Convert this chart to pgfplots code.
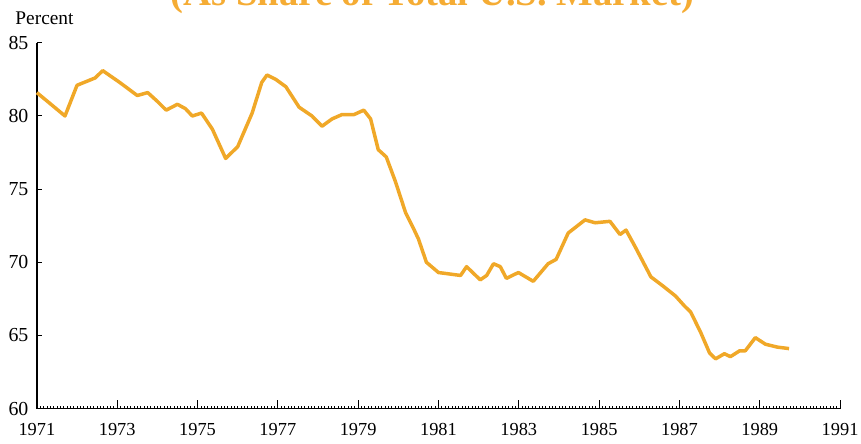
\documentclass[border=0pt]{standalone}
\usepackage{fontspec}
\setmainfont{Liberation Serif}
\usepackage{pgfplots}
\pgfplotsset{compat=1.18}
\definecolor{lineor}{RGB}{240,168,40}
\definecolor{titleor}{RGB}{245,172,52}

\begin{document}
\begin{tikzpicture}
\begin{axis}[
  name=ax,
  scale only axis,
  width=806bp, height=367bp,
  xmin=1971, xmax=1991,
  ymin=60, ymax=85,
  axis x line*=bottom, axis y line*=left,
  axis line style={-, line width=1.3bp},
  tick align=inside,
  xtick={1971,1973,...,1991},
  ytick=\empty,
  extra y ticks={60,65,...,85},
  extra y tick style={major tick length=5bp},
  minor x tick num=23,
  major tick length=9bp,
  minor tick length=3bp,
  tick style={black, line width=1bp},
  minor tick style={line width=0.7bp},
  font=\fontsize{20}{22}\selectfont,
  /pgf/number format/assume math mode=true,
  xticklabel style={/pgf/number format/1000 sep=, yshift=-11bp, font=\fontsize{18.5}{22}\selectfont},
  yticklabel style={xshift=-5bp},
  clip=false,
]
\addplot[color=lineor, line width=3.5bp, line join=round] coordinates {
(1971.0,81.6)(1971.35,80.8)(1971.7,80.0)(1972.0,82.1)(1972.27,82.4)
(1972.45,82.6)(1972.64,83.1)(1973.06,82.3)(1973.5,81.4)(1973.76,81.6)
(1974.0,81.0)(1974.22,80.4)(1974.5,80.8)(1974.7,80.5)(1974.87,80.0)
(1975.1,80.2)(1975.37,79.1)(1975.7,77.1)(1976.0,77.9)(1976.36,80.2)
(1976.6,82.3)(1976.73,82.8)(1976.95,82.5)(1977.2,82.0)(1977.53,80.6)
(1977.85,80.0)(1978.1,79.3)(1978.35,79.8)(1978.6,80.1)(1978.9,80.1)
(1979.14,80.4)(1979.31,79.8)(1979.5,77.7)(1979.7,77.2)(1979.93,75.5)
(1980.18,73.4)(1980.38,72.3)(1980.5,71.6)(1980.7,70.0)(1981.0,69.3)
(1981.55,69.1)(1981.7,69.7)(1982.04,68.8)(1982.2,69.1)(1982.37,69.9)
(1982.54,69.7)(1982.69,68.9)(1982.99,69.3)(1983.36,68.7)(1983.73,69.9)
(1983.93,70.2)(1984.23,72.0)(1984.65,72.9)(1984.9,72.7)(1985.27,72.8)
(1985.52,71.9)(1985.67,72.2)(1985.89,71.1)(1986.29,69.0)(1986.58,68.4)
(1986.9,67.7)(1987.13,67.0)(1987.28,66.6)(1987.53,65.2)(1987.75,63.8)
(1987.9,63.4)(1988.12,63.75)(1988.27,63.55)(1988.5,63.95)(1988.64,63.95)
(1988.89,64.85)(1989.14,64.4)(1989.44,64.2)(1989.73,64.1)
};
\end{axis}
\node[anchor=base west, font=\fontsize{19.5}{22}\selectfont] at ([xshift=-25bp, yshift=18bp]ax.north west) {Percent};
\node[anchor=base, text=titleor, font=\fontsize{39}{42}\selectfont\bfseries] at ([xshift=397bp, yshift=37bp]ax.north west) {(As Share of Total U.S. Market)};
\pgfresetboundingbox
\path ([xshift=-37bp, yshift=-35bp]ax.south west) rectangle ([xshift=21bp, yshift=43bp]ax.north east);
\end{tikzpicture}
\end{document}
